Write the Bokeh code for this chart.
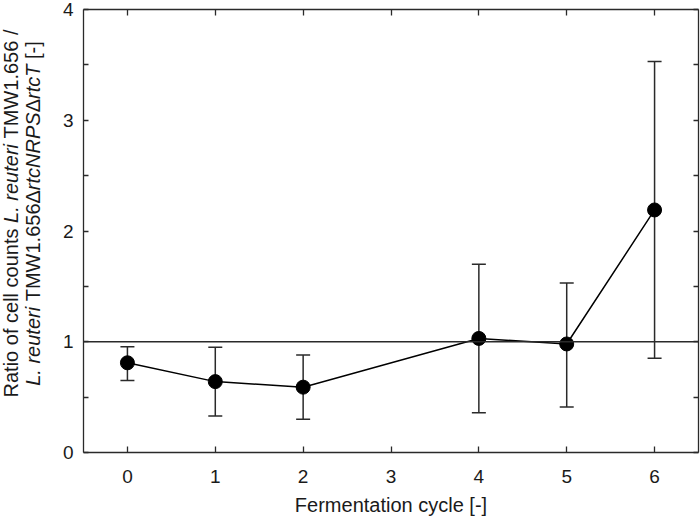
from bokeh.plotting import figure
from bokeh.layouts import row
from bokeh.models import (Range1d, LinearAxis, FixedTicker, Span, Whisker, TeeHead,
                          ColumnDataSource, Label, CustomJSTickFormatter)
from bokeh.embed import file_html
from bokeh.resources import INLINE

# ---- data ----
cycles = [0, 1, 2, 4, 5, 6]
ratio = [0.81, 0.64, 0.59, 1.03, 0.98, 2.19]
err_upper = [0.955, 0.95, 0.88, 1.70, 1.53, 3.53]
err_lower = [0.65, 0.33, 0.30, 0.36, 0.41, 0.85]
x_ticks = [0, 1, 2, 3, 4, 5, 6]
y_ticks = [0, 1, 2, 3, 4]
y_minor_ticks = [0.5, 1.5, 2.5, 3.5]
reference_ratio = 1.0

FONT = "Liberation Sans"
TXT = "#1a1a1a"
LINE = "#2a2a2a"

TITLE_W = 50
TOTAL_W = 700
TOTAL_H = 526
FRAME_BOTTOM = 452  # page y of the plot frame's bottom edge (frames are aligned in the row)

p = figure(width=TOTAL_W - TITLE_W, height=TOTAL_H, output_backend="svg", toolbar_location=None,
           x_range=Range1d(-0.5, 6.5), y_range=Range1d(0, 4),
           x_axis_location=None, y_axis_location=None,
           min_border_left=83 - TITLE_W, min_border_right=2, min_border_top=9,
           min_border_bottom=TOTAL_H - FRAME_BOTTOM)
p.grid.visible = False
p.outline_line_color = None
p.background_fill_color = "white"
p.border_fill_color = "white"

bottom_axis = LinearAxis()
left_axis = LinearAxis()
top_axis = LinearAxis()
right_axis = LinearAxis()
p.add_layout(bottom_axis, "below")
p.add_layout(left_axis, "left")
p.add_layout(top_axis, "above")
p.add_layout(right_axis, "right")


def style(ax, ticks, minor, tick_len, labels):
    ax.ticker = FixedTicker(ticks=ticks, minor_ticks=minor)
    ax.axis_line_color = LINE
    ax.axis_line_width = 1.3
    ax.major_tick_in = tick_len
    ax.major_tick_out = 0
    ax.minor_tick_in = tick_len
    ax.minor_tick_out = 0
    ax.major_tick_line_color = LINE
    ax.minor_tick_line_color = LINE
    ax.major_tick_line_width = 1.3
    ax.minor_tick_line_width = 1.3
    if labels:
        ax.major_label_text_font = FONT
        ax.major_label_text_font_size = "19px"
        ax.major_label_text_color = TXT
    else:
        ax.formatter = CustomJSTickFormatter(code="return ''")
        ax.major_label_text_font_size = "0px"
        ax.major_label_standoff = 0


style(bottom_axis, x_ticks, [], 6, True)
style(top_axis, x_ticks, [], 6, False)
style(left_axis, y_ticks, y_minor_ticks, 5, True)
style(right_axis, y_ticks, y_minor_ticks, 5, False)

bottom_axis.major_label_standoff = 17
left_axis.major_label_standoff = 10
bottom_axis.axis_label = "Fermentation cycle [-]"
bottom_axis.axis_label_text_font = FONT
bottom_axis.axis_label_text_font_size = "20px"
bottom_axis.axis_label_text_font_style = "normal"
bottom_axis.axis_label_text_color = TXT
bottom_axis.axis_label_standoff = 8

# reference line at ratio 1
p.add_layout(Span(location=reference_ratio, dimension="width", line_color=LINE, line_width=1.3))

src = ColumnDataSource(dict(x=cycles, y=ratio, upper=err_upper, lower=err_lower))
whisk = Whisker(source=src, base="x", upper="upper", lower="lower",
                line_color=LINE, line_width=1.5,
                upper_head=TeeHead(size=14, line_color=LINE, line_width=1.5),
                lower_head=TeeHead(size=14, line_color=LINE, line_width=1.5))
p.add_layout(whisk)
p.line("x", "y", source=src, line_color="black", line_width=1.5)
p.scatter("x", "y", source=src, size=14, fill_color="black", line_color="black")

# ---- y-axis title (upright + italic pieces) in a narrow side figure ----
t = figure(width=TITLE_W, height=TOTAL_H, output_backend="svg", toolbar_location=None,
           x_range=Range1d(0, 1), y_range=Range1d(0, 1),
           x_axis_location=None, y_axis_location=None, min_border=0)
t.grid.visible = False
t.outline_line_color = None
t.border_fill_color = "white"
t.background_fill_color = "white"

W = {"R": 722, "a": 556, "t": 278, "i": 222, "o": 556, " ": 278, "f": 278, "c": 500,
     "e": 556, "l": 222, "u": 556, "n": 556, "s": 500, "L": 556, ".": 278, "r": 333,
     "T": 611, "M": 833, "W": 944, "1": 556, "5": 556, "6": 556, "/": 278, "Δ": 668,
     "N": 722, "P": 667, "S": 667, "[": 278, "-": 333, "]": 278}
TFS = 20


def tw(s):
    return sum(W.get(c, 556) for c in s) / 1000.0 * TFS


line1 = [("Ratio of cell counts ", "normal"), ("L. reuteri", "italic"), (" TMW1.656 /", "normal")]
line2 = [("L. reuteri", "italic"), (" TMW1.656", "normal"), ("Δ", "normal"),
         ("rtcNRPS", "italic"), ("Δ", "normal"), ("rtcT", "italic"), (" [-]", "normal")]

center_y = FRAME_BOTTOM - 213  # px above the aligned frame bottom
for segs, bx in ((line1, 10), (line2, 32)):
    total = sum(tw(s) for s, _ in segs)
    y = center_y - total / 2.0
    for s, style_ in segs:
        lead = len(s) - len(s.lstrip(" "))
        txt = s.strip(" ")
        t.add_layout(Label(x=bx, y=y + tw(" " * lead), x_units="screen", y_units="screen",
                           text=txt, angle=90, angle_units="deg",
                           text_align="left", text_baseline="alphabetic",
                           text_font=FONT, text_font_size=f"{TFS}px",
                           text_font_style=style_, text_color=TXT))
        y += tw(s)

layout = row(t, p, spacing=0)
open("out.html", "w").write(file_html(layout, INLINE))
